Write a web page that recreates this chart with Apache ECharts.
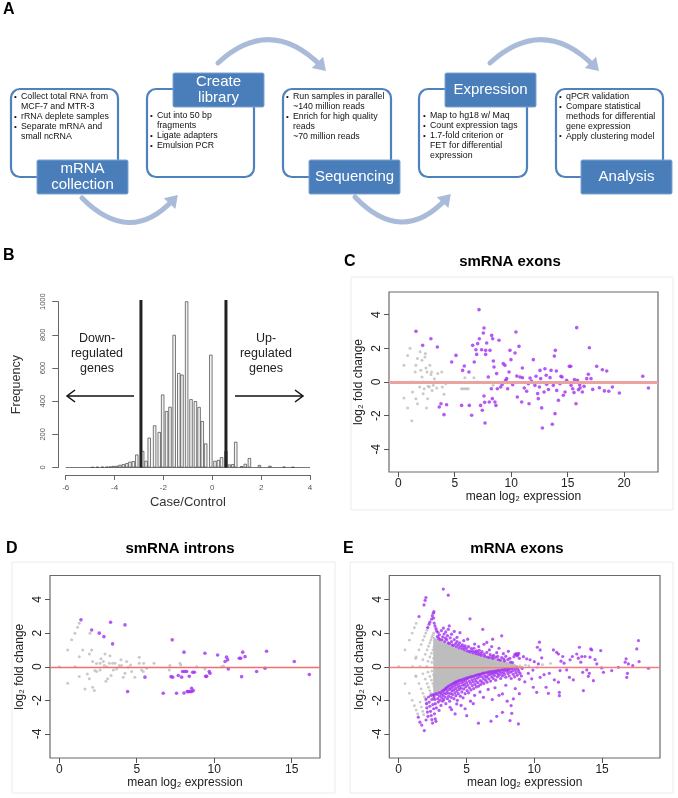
<!DOCTYPE html>
<html><head><meta charset="utf-8">
<script src="https://cdn.jsdelivr.net/npm/echarts@6/dist/echarts.min.js"></script>
<style>html,body{margin:0;padding:0;background:#fff}#c{width:678px;height:798px}</style>
</head><body><div id="c"></div><script>
// ---------- Panel A texts ----------
const stepTitles = [['mRNA','collection'],['Create','library'],['Sequencing'],['Expression'],['Analysis']];
const stepNotes = [
 ['• Collect total RNA from','MCF-7 and MTR-3','• rRNA deplete samples','• Separate mRNA and','small ncRNA'],
 ['• Cut into 50 bp','fragments','• Ligate adapters','• Emulsion PCR'],
 ['• Run samples in parallel','~140 million reads','• Enrich for high quality','reads','~70 million reads'],
 ['• Map to hg18 w/ Maq','• Count expression tags','• 1.7-fold criterion or','FET for differential','expression'],
 ['• qPCR validation','• Compare statistical','methods for differential','gene expression','• Apply clustering model']
];
// ---------- Panel B data ----------
const histCenters = [-4.9,-4.7,-4.5,-4.32,-4.18,-4.05,-3.91,-3.78,-3.64,-3.5,-3.37,-3.23,-3.09,-2.85,-2.71,-2.58,-2.36,-2.17,-2.03,-1.87,-1.73,-1.56,-1.37,-1.24,-1.05,-0.87,-0.69,-0.54,-0.41,-0.27,-0.06,0.11,0.25,0.38,0.56,0.70,0.84,0.96,1.2,1.35,1.52,1.93,2.36,2.94,3.3];
const histCounts  = [2,3,4,5,6,9,10,16,20,26,35,38,78,100,40,180,254,214,440,340,366,800,570,560,1015,412,400,365,280,145,680,40,45,62,100,18,20,155,8,22,57,15,10,5,3];
const cutoffs = [-2.92, 0.56];
const cutTop = 1010;
const bXTicks = [-6,-4,-2,0,2,4];
// ---------- Panel C data ----------
const cGrey = [[0,0],[0.5,1.0],[0.5,-0.95],[0.83,1.58],[0.83,-1.55],[1.04,2.0],[1.04,0],[1.27,-0.6],[1.2,-2.3],[1.5,0.6],[1.56,1.0],[1.56,-1.0],[1.7,1.4],[1.7,-1.3],[1.93,1.8],[2.0,0.7],[2.1,0.3],[2.2,-0.7],[2.1,1.3],[2.36,1.48],[2.4,1.7],[2.45,0.83],[2.5,-1.55],[2.55,0.6],[2.75,-0.3],[2.8,1.0],[2.9,0.45],[2.95,0.6],[3.1,-0.2],[3.3,0.0],[3.4,-0.35],[3.5,0.5],[3.85,0.6],[3.9,-0.3],[4.05,-0.73],[4.2,-0.1],[2.3,-0.4],[2.6,-1.0],[1.3,0.0],[1.9,-0.3],[2.2,0.0],[5.6,-0.4],[5.75,-0.4],[5.9,-0.4],[6.05,-0.4],[6.2,-0.4],[5.9,0.25],[6.7,0.25],[7.0,0.0],[8.4,-0.2],[9.5,0.0],[3.0,-0.5],[3.2,0.2],[2.65,-0.25]];
const cPurple = [[1.57,3.01],[2.16,2.18],[2.89,2.57],[3.46,2.08],[3.63,-1.49],[3.78,-1.29],[4.05,-1.94],[4.28,-1.35],[4.73,1.19],[5.11,1.58],[5.61,-1.39],[5.70,0.69],[5.85,0.95],[6.26,0.59],[6.29,-1.39],[6.50,-1.98],[6.59,2.18],[6.73,1.19],[6.88,1.92],[6.94,1.64],[7.03,2.28],[7.15,4.30],[7.18,2.57],[7.29,-1.39],[7.38,1.92],[7.44,-1.68],[7.53,2.91],[7.59,3.21],[7.59,-0.83],[7.65,-1.21],[7.68,-2.44],[7.74,1.88],[7.74,1.64],[7.83,2.32],[7.97,0.30],[8.06,-1.19],[8.12,1.88],[8.24,-0.40],[8.27,2.77],[8.33,-0.99],[8.36,2.57],[8.42,1.25],[8.48,0.89],[8.56,-1.19],[8.65,-1.39],[8.71,0.50],[8.77,-0.40],[8.92,2.48],[9.07,-0.30],[9.30,1.09],[9.45,0.99],[9.51,0.10],[9.60,0.20],[9.69,-0.40],[9.81,0.59],[9.89,1.88],[9.98,1.33],[10.13,-0.16],[10.34,1.72],[10.42,2.97],[10.54,-0.89],[10.69,2.12],[10.78,0.30],[10.93,-1.19],[10.99,0.83],[11.16,-0.36],[11.37,-0.55],[11.52,-0.10],[11.58,-1.29],[11.67,0.24],[11.96,1.33],[12.20,0.34],[12.34,-0.69],[12.40,-0.99],[12.55,0.69],[12.61,0.20],[12.70,-1.54],[12.76,-2.73],[12.91,-0.59],[12.99,0.79],[13.14,-0.14],[13.44,0.26],[13.53,0.69],[13.64,-2.51],[13.73,-0.20],[13.82,1.54],[13.88,-1.88],[13.91,1.88],[14.03,-0.50],[14.18,-1.09],[14.32,-0.10],[14.41,0.34],[14.62,-0.79],[14.77,-0.59],[14.91,0.10],[15.15,0.93],[15.27,0.93],[15.45,-0.40],[15.56,-0.63],[15.74,-1.29],[15.80,3.23],[15.86,0.10],[15.95,-0.46],[16.07,-0.16],[16.30,-0.59],[16.45,-0.26],[16.69,0.20],[16.83,0.46],[16.92,2.04],[17.07,0.20],[17.22,-0.44],[17.57,0.93],[17.81,-0.34],[18.07,0.73],[18.25,-0.53],[18.46,0.65],[18.64,-0.55],[18.96,-0.30],[19.58,-0.65],[21.65,0.34],[22.15,-0.36],[11.8,0.05],[12.5,-0.3],[13.3,-0.45],[14.5,0.3],[15.6,0.15],[16.1,-0.35],[15.3,-0.2],[14.0,0.65],[13.1,0.4],[12.1,-0.2],[11.0,0.25],[10.5,0.35],[9.2,-0.15]];
// ---------- Panel D data ----------
const dGrey = [[0,0],[0.54,0.99],[0.54,-0.98],[0.8,1.6],[1.01,0],[1.01,2.0],[1.18,2.35],[1.29,2.59],[1.29,0.6],[1.29,-0.58],[1.51,1.0],[1.66,-1.32],[1.81,-0.43],[1.94,0.76],[1.94,-0.72],[1.98,2.0],[2.09,1.0],[2.15,0.31],[2.15,-1.22],[2.26,-1.42],[2.3,-0.23],[2.41,-0.28],[2.63,0.21],[2.69,0.47],[2.84,0.31],[2.9,0.07],[2.95,0.76],[3.01,-0.86],[3.06,0],[3.12,-0.72],[3.23,0.21],[3.27,0.66],[3.34,-0.52],[3.44,0.21],[3.49,-0.19],[3.6,0.21],[3.7,-0.13],[3.87,0.07],[3.98,0.41],[4.02,0.07],[4.13,-0.62],[4.24,-0.39],[4.35,0.31],[4.45,-0.03],[4.6,0.11],[4.67,-0.28],[4.88,-0.62],[5.16,0.57],[5.16,0.21],[5.31,-0.19],[5.42,-0.28],[5.45,0.21],[5.64,-0.09],[6.11,0.21],[7.1,-0.19],[7.14,0.07],[7.79,0.21],[7.85,0.11],[8.87,0.0],[9.4,-0.13],[10.48,0],[10.6,0.05],[2.63,-0.2],[2.4,0.2]];
const dPurple = [[1.4,2.79],[2.09,2.19],[2.58,2.0],[2.88,1.79],[3.31,2.65],[3.44,1.36],[4.24,2.49],[4.41,-1.48],[5.53,-0.62],[6.71,-1.58],[7.21,-0.59],[7.29,1.6],[7.32,-0.62],[7.57,-1.58],[7.68,-0.52],[7.9,-0.62],[7.96,-0.28],[8.05,0.87],[8.1,-0.28],[8.05,-1.56],[8.22,-0.28],[8.26,-1.48],[8.33,-1.48],[8.39,-0.57],[8.44,-1.48],[8.54,-1.48],[8.54,-1.28],[8.61,-0.33],[8.65,-1.42],[8.72,-0.33],[9.4,0.8],[9.45,-0.57],[9.51,-0.57],[9.68,-0.28],[9.73,-0.39],[10.22,0.7],[10.7,0.31],[10.8,0.57],[10.87,0.41],[10.91,-0.13],[11.62,0.51],[11.71,0.51],[11.77,-0.59],[11.84,0.87],[11.99,0.6],[12.74,-0.28],[13.28,-0.09],[13.38,0.92],[15.17,0.31],[16.14,-0.46]];
// ---------- Panel E data ----------
const eCoreUpper = [[2.55,1.75],[2.8,1.65],[3.0,1.55],[3.3,1.45],[3.6,1.33],[4.0,1.18],[4.5,1.0],[5.0,0.87],[5.5,0.76],[6.0,0.65],[6.5,0.56],[7.0,0.47],[7.5,0.37],[8.0,0.27],[8.4,0.17],[8.7,0.08],[8.9,0.0]];
const eCoreLower = [[2.55,-1.75],[2.8,-1.55],[3.0,-1.45],[3.3,-1.3],[3.6,-1.15],[4.0,-0.95],[4.5,-0.78],[5.0,-0.63],[5.5,-0.52],[6.0,-0.42],[6.5,-0.34],[7.0,-0.27],[7.5,-0.2],[8.0,-0.13],[8.5,-0.07],[8.9,0.0]];
const eGrey = [[0,0],[1.03,0],[1.57,0],[2.07,0],[0.47,1.0],[0.79,1.58],[1.0,2.0],[1.16,2.32],[1.29,2.58],[1.29,0.58],[1.5,1.0],[1.66,1.32],[1.79,1.58],[1.9,1.8],[2.0,2.0],[2.08,2.17],[2.16,2.32],[1.79,0.42],[1.96,0.74],[2.1,1.0],[2.2,1.22],[2.3,1.42],[2.38,1.58],[2.45,1.74],[2.52,1.87],[2.58,2.0],[2.16,0.32],[2.3,0.58],[2.42,0.8],[2.52,1.0],[2.6,1.17],[2.68,1.32],[2.74,1.45],[2.45,0.26],[2.57,0.49],[2.66,0.68],[0.47,-1.0],[0.79,-1.58],[1.0,-2.0],[1.16,-2.32],[1.29,-2.58],[1.4,-2.81],[1.29,-0.58],[1.5,-1.0],[1.66,-1.32],[1.79,-1.58],[1.9,-1.8],[2.0,-2.0],[2.08,-2.17],[1.58,-2.1],[1.68,-2.4],[1.78,-2.65],[1.85,-2.85],[1.79,-0.42],[1.96,-0.74],[2.1,-1.0],[2.2,-1.22],[2.3,-1.42],[2.38,-1.58],[2.45,-1.74],[2.16,-0.32],[2.3,-0.58],[2.42,-0.8],[2.52,-1.0],[2.6,-1.17],[2.68,-1.32],[2.45,-0.26],[2.57,-0.49],[2.66,-0.68],[1.25,0.49],[1.25,-0.55],[8.95,0.05],[9.1,-0.03],[9.35,0.1],[9.6,0.05],[10.2,-0.05],[10.6,0.12],[11.2,0.2]];
const ePurple = [
 [2.62,-1.72],[2.66,-1.95],[2.7,-2.2],[2.74,-1.6],[2.78,-2.45],[2.85,-1.65],[2.88,-1.9],[2.92,-2.1],[2.95,-1.55],[2.98,-2.6],[3.02,-1.75],[3.05,-2.0],[3.08,-1.52],
 [3.12,-2.3],[3.15,-1.62],[3.18,-1.85],[3.22,-1.45],[3.25,-2.05],[3.28,-1.7],[3.3,-1.4],[3.33,-1.95],[3.36,-1.55],[3.4,-1.35],[3.42,-1.8],[3.46,-1.3],[3.48,-2.2],[3.5,-1.6],
 [3.53,-1.25],[3.56,-1.42],[3.6,-1.9],[3.62,-1.2],[3.65,-1.55],[3.68,-1.75],[3.7,-1.15],[3.74,-1.35],[3.76,-2.05],[3.8,-1.1],[3.82,-1.6],[3.85,-1.28],[3.88,-1.82],[3.9,-1.05],[3.93,-1.45],[3.96,-1.2],[3.98,-1.65],
 [4.02,-1.0],[4.05,-1.38],[4.08,-1.9],[4.1,-0.98],[4.12,-1.15],[4.15,-1.55],[4.18,-0.92],[4.2,-1.3],[4.22,-1.72],[4.26,-1.05],[4.28,-0.9],[4.3,-1.45],[4.33,-2.0],[4.36,-1.2],[4.38,-0.85],[4.4,-1.6],[4.43,-1.0],[4.46,-1.35],[4.48,-0.82],
 [4.52,-1.15],[4.55,-1.75],[4.58,-0.8],[4.6,-1.28],[4.63,-0.95],[4.66,-1.5],[4.7,-0.76],[4.72,-1.1],[4.75,-1.85],[4.78,-0.88],[4.8,-1.32],[4.84,-0.72],[4.86,-1.05],[4.9,-1.6],[4.92,-0.8],[4.95,-1.2],[4.98,-0.68],
 [5.02,-0.95],[5.05,-1.42],[5.08,-0.7],[5.1,-1.1],[5.14,-0.64],[5.16,-1.55],[5.2,-0.85],[5.22,-1.25],[5.26,-0.62],[5.3,-0.98],[5.33,-1.38],[5.36,-0.6],[5.4,-0.78],[5.43,-1.12],[5.46,-0.58],[5.5,-0.9],
 [5.53,-1.3],[5.56,-0.55],[5.6,-0.72],[5.63,-1.05],[5.66,-0.52],[5.7,-0.85],[5.73,-1.2],[5.76,-0.5],[5.8,-0.68],[5.84,-0.95],[5.88,-0.47],[5.9,-1.15],[5.94,-0.6],[5.98,-0.45],
 [6.02,-0.82],[6.05,-1.05],[6.08,-0.43],[6.12,-0.58],[6.15,-0.9],[6.2,-0.4],[6.24,-0.7],[6.28,-1.0],[6.3,-0.38],[6.35,-0.55],[6.4,-0.8],[6.44,-0.36],[6.48,-0.62],
 [6.52,-0.92],[6.56,-0.34],[6.6,-0.5],[6.65,-0.72],[6.7,-0.31],[6.74,-0.45],[6.78,-0.85],[6.82,-0.3],[6.86,-0.6],[6.9,-0.42],[6.95,-0.28],[6.98,-0.7],
 [7.03,-0.38],[7.07,-0.52],[7.1,-0.26],[7.15,-0.8],[7.2,-0.35],[7.24,-0.24],[7.28,-0.6],[7.32,-0.42],[7.37,-0.22],[7.42,-0.5],[7.46,-0.3],
 [7.52,-0.7],[7.56,-0.2],[7.6,-0.38],[7.65,-0.55],[7.7,-0.18],[7.75,-0.3],[7.8,-0.45],[7.84,-0.16],[7.9,-0.62],[7.95,-0.26],
 [8.02,-0.14],[8.06,-0.4],[8.1,-0.22],[8.15,-0.55],[8.2,-0.12],[8.25,-0.32],[8.3,-0.7],[8.35,-0.1],[8.4,-0.25],[8.45,-0.45],[8.5,-0.08],[8.55,-0.6],[8.6,-0.2],[8.65,-0.35],[8.7,-0.06],[8.75,-0.5],[8.8,-0.15],[8.85,-0.28],[8.9,-0.75],[8.95,-0.4],[9.05,-0.55],[9.1,-0.1],
 [3.79,-2.41],[4.16,-2.81],[5.88,-3.36],[6.81,-3.24],[7.23,-2.95],[7.65,-2.71],[8.21,-3.2],[8.34,-2.77],[8.83,-3.4],[8.29,-2.31],[8.46,-1.91],[7.65,-1.62],[6.25,-1.82],[5.02,-2.91],[4.28,-2.21],[4.6,-2.3],[5.3,-2.05],[5.6,-1.7],[6.0,-1.5],[6.6,-1.35],[7.1,-1.25],[7.9,-1.1],[8.6,-1.3],[8.0,-2.05],[8.9,-1.6],[9.3,-0.9],[4.9,-2.5],[3.9,-2.55],[5.5,-2.2],[6.9,-1.95],[7.4,-1.7],
 [1.45,-3.0],[1.57,-3.3],[1.7,-3.47],[1.89,-3.8],[2.02,-3.17],[2.02,-1.92],[2.05,-2.2],[2.08,-2.45],[2.12,-2.7],[2.16,-2.95],[2.2,-1.8],[2.25,-2.1],[2.3,-2.35],[2.35,-2.65],[2.4,-2.9],[2.45,-3.15],[2.5,-3.35],[2.38,-1.7],[2.45,-1.95],[2.52,-2.25],[2.58,-2.5],[2.64,-2.8],[2.7,-3.1],[2.75,-3.25],[2.55,-1.65],[2.6,-1.85],
 [2.85,1.8],[2.9,2.05],[2.95,1.7],[3.0,1.9],[3.05,1.62],[3.15,2.15],[3.2,1.6],[3.25,1.78],[3.35,1.95],[3.4,1.5],[3.45,1.7],[3.55,1.62],[3.6,1.85],[3.65,1.42],[3.75,1.38],[3.8,1.72],[3.9,1.5],[3.95,1.3],[4.05,1.27],[4.1,1.62],[4.2,1.38],[4.25,1.2],[4.3,1.5],[4.4,1.3],[4.45,1.12],[4.5,1.42],[4.6,1.22],[4.65,1.07],[4.7,1.3],[4.8,1.15],[4.85,1.0],[4.9,1.25],[5.0,1.1],[5.05,0.94],[5.15,1.2],[5.2,0.92],[5.3,0.88],[5.35,1.08],[5.45,0.95],[5.5,0.83],[5.55,1.1],[5.65,0.9],[5.7,0.78],[5.75,0.95],[5.85,0.84],[5.9,0.73],[5.95,0.98],[6.05,0.8],[6.1,0.68],[6.15,0.9],[6.3,0.75],[6.35,0.63],[6.5,0.85],[6.55,0.58],[6.7,0.55],[6.75,0.72],[6.9,0.6],[6.95,0.5],[7.0,0.68],[7.15,0.56],[7.3,0.62],[7.35,0.43],[7.5,0.4],[7.6,0.55],[7.75,0.46],[7.8,0.35],[7.9,0.62],[8.05,0.42],[8.2,0.5],[8.25,0.28],[8.4,0.25],[8.5,0.6],[8.65,0.7],[8.7,0.78],[8.75,0.65],[8.8,0.72],[8.85,0.8],[8.9,0.5],
 [3.29,4.62],[3.66,4.26],[2.01,4.12],[1.87,3.68],[1.5,2.99],[2.55,3.19],[2.48,3.03],[2.43,2.83],[2.24,2.53],[2.3,2.65],[2.14,2.33],[2.68,2.43],[2.75,2.27],[2.8,2.13],[2.62,2.6],[2.58,2.9],[3.73,2.43],[3.66,2.23],[3.47,2.07],[3.9,1.94],[4.52,2.03],[5.09,1.64],[6.2,2.23],[6.29,1.34],[6.86,1.2],[6.93,1.64],[7.6,1.84],[6.69,1.0],[7.23,0.84],[7.72,0.78],[8.09,0.92],[8.58,0.75],[5.26,2.85],[4.3,1.75],[4.8,1.55],[5.6,1.35],[5.9,1.2],[7.4,1.1],[4.1,2.1],[3.3,2.3],[6.5,1.45],[2.6,3.28],[1.95,3.95],
 [9.44,0.47],[9.69,0.41],[10.23,1.16],[10.38,1.46],[10.43,1.0],[10.55,0.53],[10.3,0.17],[9.56,-0.39],[9.81,-0.72],[9.93,-1.22],[10.18,-1.52],[10.43,-0.63],[10.72,-0.47],[10.87,-1.22],[11.04,-1.58],[11.11,-0.39],[11.41,1.0],[11.65,0.86],[11.78,0.76],[11.48,-0.78],[11.78,-0.92],[11.9,-0.23],[11.97,0.33],[11.85,-1.52],[11.85,-1.72],[12.1,0.61],[12.2,0.21],[12.39,-0.19],[12.59,-0.63],[12.64,0.41],[12.81,0.61],[12.88,-0.78],[13.13,0.76],[13.25,0.51],[13.33,1.16],[13.43,0.27],[13.5,0.61],[13.57,-0.33],[13.62,-1.42],[13.74,0.61],[13.87,-0.19],[13.99,-0.57],[14.06,-0.39],[14.11,0.57],[14.16,1.06],[14.24,1.0],[14.36,-0.83],[14.48,0.43],[14.61,0.17],[14.9,0.96],[14.97,-0.07],[15.1,-0.33],[15.71,-0.23],[16.2,-0.03],[16.77,0.47],[16.7,0.27],[16.82,-0.63],[16.87,-0.39],[16.94,0.17],[17.26,0.07],[17.56,1.06],[17.68,1.56],[17.73,0.31],[18.42,-0.09],[9.2,0.6],[9.9,-0.2],[10.0,0.3]
];
const maXTicks = [0,5,10,15,20];
const maYTicks = [-4,-2,0,2,4];

// ---------- layout ----------
const FONT = 'Liberation Sans, Arial, sans-serif';
const chart = echarts.init(document.getElementById('c'), null, {renderer:'canvas'});
const boxes = [
  {o:[11,89,107,88], h:[37,160,91,34], t:[14,97]},
  {o:[147,89,107,88], h:[173,73,91,34], t:[150,116]},
  {o:[283,89,108,88], h:[309,160,91,34], t:[286,97]},
  {o:[419,89,108,88], h:[445,73,91,34], t:[423,116]},
  {o:[556,89,107,88], h:[581,160,91,34], t:[559,97]}
];
const arcs = [
  {s:[218,63], c:[270,15], e:[321,66]},
  {s:[490,63], c:[543,15], e:[594,66]},
  {s:[82,198], c:[130,246], e:[173,200]},
  {s:[355,197], c:[402,246], e:[446,199]}
];
const g = [];
const ARC = '#a9bbd9';
arcs.forEach(a=>{
  g.push({type:'bezierCurve', shape:{x1:a.s[0],y1:a.s[1],x2:a.e[0],y2:a.e[1],cpx1:a.c[0],cpy1:a.c[1]}, style:{stroke:ARC,lineWidth:5,fill:null,lineCap:'round'}, z:1});
  let dx=a.e[0]-a.c[0], dy=a.e[1]-a.c[1]; const L=Math.hypot(dx,dy); dx/=L; dy/=L;
  const tip=[a.e[0]+dx*7,a.e[1]+dy*7], bx=a.e[0]-dx*5, by=a.e[1]-dy*5;
  g.push({type:'polygon', shape:{points:[tip,[bx-dy*8,by+dx*8],[bx+dy*8,by-dx*8]]}, style:{fill:ARC}, z:1});
});
boxes.forEach((b,i)=>{
  g.push({type:'rect', shape:{x:b.o[0],y:b.o[1],width:b.o[2],height:b.o[3],r:9}, style:{fill:'#fff',stroke:'#4f81bd',lineWidth:2.2}, z:2});
  g.push({type:'rect', shape:{x:b.h[0],y:b.h[1],width:b.h[2],height:b.h[3],r:1.5}, style:{fill:'#4a7ebb',stroke:'#7fa3d0',lineWidth:1}, z:3});
  const tl = stepTitles[i];
  tl.forEach((line,k)=>{
    const cy = b.h[1]+b.h[3]/2 + (tl.length===2 ? (k===0?-8:8) : 0);
    g.push({type:'text', style:{text:line,x:b.h[0]+b.h[2]/2,y:cy,align:'center',verticalAlign:'middle',font:'15px '+FONT,fill:'#fff'}, z:4});
  });
  stepNotes[i].forEach((line,k)=>{
    const y = b.t[1] + k*9.8;
    const bullet = line.startsWith('• ');
    if (bullet) g.push({type:'text', style:{text:'•',x:b.t[0],y:y,verticalAlign:'middle',font:'8px '+FONT,fill:'#111'}, z:4});
    g.push({type:'text', style:{text:bullet?line.slice(2):line,x:b.t[0]+7,y:y,verticalAlign:'middle',font:'8.8px '+FONT,fill:'#111'}, z:4});
  });
});
// panel letters & titles
[['A',3,10],['B',3,256],['C',344,262],['D',6,549],['E',343,549]].forEach(p=>{
  g.push({type:'text', style:{text:p[0],x:p[1],y:p[2],verticalAlign:'middle',font:'bold 16px '+FONT,fill:'#000'}, z:5});
});
[['smRNA exons',510,262],['smRNA introns',180,549],['mRNA exons',517,549]].forEach(p=>{
  g.push({type:'text', style:{text:p[0],x:p[1],y:p[2],align:'center',verticalAlign:'middle',font:'bold 15px '+FONT,fill:'#000'}, z:5});
});
// faint panel frames
[[351,277,322,233],[12,562,323,231],[350,562,323,231]].forEach(r=>{
  g.push({type:'rect', shape:{x:r[0],y:r[1],width:r[2],height:r[3]}, style:{fill:null,stroke:'#ececec',lineWidth:1}, z:0});
});
// panel B annotations
[['Down-',97,339],['regulated',97,354],['genes',97,369],['Up-',266,339],['regulated',266,354],['genes',266,369]].forEach(p=>{
  g.push({type:'text', style:{text:p[0],x:p[1],y:p[2],align:'center',verticalAlign:'middle',font:'12.5px '+FONT,fill:'#222'}, z:5});
});
g.push({type:'polyline', shape:{points:[[134,396],[67,396]]}, style:{stroke:'#111',lineWidth:1.5,fill:null}, z:5});
g.push({type:'polyline', shape:{points:[[75,390],[67,396],[75,402]]}, style:{stroke:'#111',lineWidth:1.5,fill:null}, z:5});
g.push({type:'polyline', shape:{points:[[235,396],[303,396]]}, style:{stroke:'#111',lineWidth:1.5,fill:null}, z:5});
g.push({type:'polyline', shape:{points:[[295,390],[303,396],[295,402]]}, style:{stroke:'#111',lineWidth:1.5,fill:null}, z:5});

// ---------- axes ----------
const GREY = '#bdbdbd', PURPLE = '#a12ff0';
function maX(gi,min,max,gap){
  return {type:'value',gridIndex:gi,min:min,max:max,axisLine:{show:false,onZero:false},splitLine:{show:false},
    axisTick:{show:true,inside:false,length:5,lineStyle:{color:'#555'},customValues:maXTicks},
    axisLabel:{customValues:maXTicks,fontSize:12,color:'#222',margin:6,fontFamily:FONT},
    name:'mean log₂ expression',nameLocation:'middle',nameGap:gap,nameTextStyle:{fontSize:12,color:'#222',fontFamily:FONT}};
}
function maY(gi,lim){
  return {type:'value',gridIndex:gi,min:-lim,max:lim,axisLine:{show:false,onZero:false},splitLine:{show:false},
    axisTick:{show:true,inside:false,length:5,lineStyle:{color:'#555'},customValues:maYTicks},
    axisLabel:{customValues:maYTicks,fontSize:12,color:'#222',margin:6,rotate:90,fontFamily:FONT},
    name:'log₂ fold change',nameLocation:'middle',nameGap:24,nameTextStyle:{fontSize:12,color:'#222',fontFamily:FONT}};
}
function scat(xi,data,color,size,z){
  return {type:'scatter',xAxisIndex:xi,yAxisIndex:xi,data:data,symbol:'circle',symbolSize:size,itemStyle:{color:color},z:z,silent:true};
}
function zeroLine(xi,color,w){
  return {type:'line',xAxisIndex:xi,yAxisIndex:xi,data:[],markLine:{silent:true,symbol:'none',label:{show:false},lineStyle:{color:color,width:w,type:'solid'},data:[{yAxis:0}]},z:5};
}
const frame = {show:true,borderColor:'#6a6a6a',borderWidth:1.2,backgroundColor:'transparent'};
const option = {
  animation:false,
  textStyle:{fontFamily:FONT},
  graphic:g,
  grid:[
    {left:65.7,top:301.7,width:244.3,height:165.8,show:false},
    Object.assign({left:389,top:292,width:269,height:180},frame),
    Object.assign({left:50,top:575.5,width:270,height:182.5},frame),
    Object.assign({left:389.3,top:575.5,width:270.7,height:182.5},frame)
  ],
  xAxis:[
    {type:'value',gridIndex:0,min:-6,max:4,interval:2,offset:7.5,
     axisLine:{show:true,onZero:false,lineStyle:{color:'#666',width:1}},axisTick:{show:true,length:5,lineStyle:{color:'#666'}},
     axisLabel:{fontSize:8,color:'#555',margin:9},splitLine:{show:false},
     name:'Case/Control',nameLocation:'middle',nameGap:21,nameTextStyle:{fontSize:13,color:'#333'}},
    maX(1,-0.82,23.0,19), maX(2,-0.6,16.83,18), maX(3,-0.69,19.27,18)
  ],
  yAxis:[
    {type:'value',gridIndex:0,min:0,max:1000,interval:200,offset:7.4,
     axisLine:{show:true,onZero:false,lineStyle:{color:'#666',width:1}},axisTick:{show:true,length:6,lineStyle:{color:'#666'}},
     axisLabel:{fontSize:7.5,color:'#555',margin:11,rotate:90,formatter:v=>String(v)},splitLine:{show:false},
     name:'Frequency',nameLocation:'middle',nameGap:35,nameTextStyle:{fontSize:12.5,color:'#333'}},
    maY(1,5.35), maY(2,5.43), maY(3,5.43)
  ],
  series:[
    {type:'line',xAxisIndex:0,yAxisIndex:0,data:[[bXTicks[0],0],[bXTicks[bXTicks.length-1],0]],symbol:'none',lineStyle:{color:'#777',width:1},z:1,silent:true},
    {type:'bar',xAxisIndex:0,yAxisIndex:0,data:histCenters.map((x,i)=>[x,histCounts[i]]),barWidth:3.3,
     itemStyle:{color:'#f1f1f1',borderColor:'#444',borderWidth:0.7},z:2,silent:true},
    ...cutoffs.map(c=>({type:'line',xAxisIndex:0,yAxisIndex:0,clip:false,data:[[c,0],[c,cutTop]],symbol:'none',lineStyle:{color:'#222',width:3},z:4,silent:true})),
    scat(1,cGrey,GREY,3,3), scat(1,cPurple,PURPLE,3.6,4), zeroLine(1,'#e9a49f',3),
    scat(2,dGrey,GREY,3,3), scat(2,dPurple,PURPLE,3.6,4), zeroLine(2,'#ee6f6f',1.3),
    {type:'line',xAxisIndex:3,yAxisIndex:3,data:eCoreUpper,symbol:'none',lineStyle:{color:GREY,width:1},areaStyle:{color:GREY,opacity:1,origin:0},z:2,silent:true},
    {type:'line',xAxisIndex:3,yAxisIndex:3,data:eCoreLower,symbol:'none',lineStyle:{color:GREY,width:1},areaStyle:{color:GREY,opacity:1,origin:0},z:2,silent:true},
    scat(3,eGrey,GREY,2.8,3), scat(3,ePurple,PURPLE,3.2,4), zeroLine(3,'#f07f7f',1.3)
  ]
};
chart.setOption(option);
</script></body></html>
